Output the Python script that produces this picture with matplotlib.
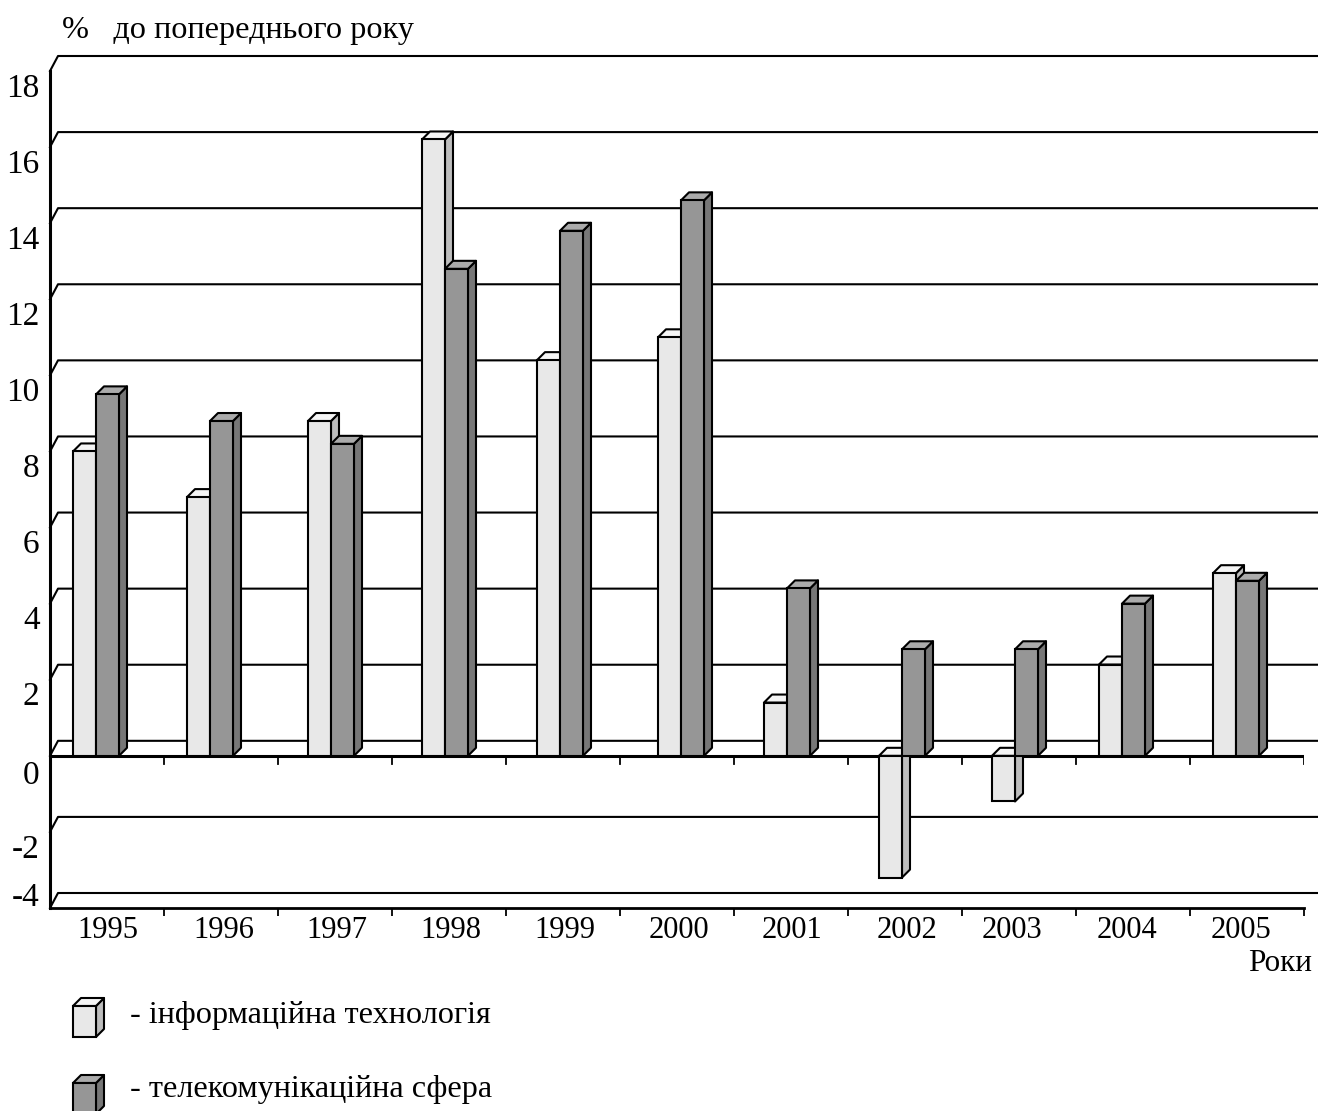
import matplotlib
matplotlib.use('Agg')
import matplotlib.pyplot as plt
from matplotlib.patches import Polygon, Rectangle
from matplotlib.transforms import ScaledTranslation

years = ['1995', '1996', '1997', '1998', '1999', '2000', '2001', '2002', '2003', '2004', '2005']
it_values = [8.0, 6.8, 8.8, 16.2, 10.4, 11.0, 1.4, -3.2, -1.2, 2.4, 4.8]
telecom_values = [9.5, 8.8, 8.2, 12.8, 13.8, 14.6, 4.4, 2.8, 2.8, 4.0, 4.6]
y_ticks = [-4, -2, 0, 2, 4, 6, 8, 10, 12, 14, 16, 18]

# the bars are not evenly placed in the original, px from the left tick
bar_shift = [23, 23, 30, 30, 31, 38, 30, 31, 30, 23, 23]
label_shift = [58, 60, 59, 59, 59, 59, 58, 59, 50, 51, 51]

W, H = 1318, 1111
LEFT, RIGHT, TOP, BOTTOM = 50, 1304, 71, 908
PX_X = (RIGHT - LEFT) / 11
PX_Y = (BOTTOM - TOP) / 22
BAR_W = 23 / PX_X
DX, DY = 8 / PX_X, 8 / PX_Y
WALL_X, WALL_Y = 8 / PX_X, 15 / PX_Y
LINE = 1.5
SERIF = 'Liberation Serif'

LIGHT = ('#e8e8e8', '#f5f5f5', '#bdbdbd')
DARK = ('#969696', '#ababab', '#777777')

fig = plt.figure(figsize=(W / 100, H / 100), dpi=100)
ax = fig.add_axes([LEFT / W, 1 - BOTTOM / H, (RIGHT - LEFT) / W, (BOTTOM - TOP) / H])
ax.set_xlim(0, 11)
ax.set_ylim(-4, 18)
ax.patch.set_visible(False)
for side in ['top', 'right']:
    ax.spines[side].set_visible(False)
ax.spines['left'].set_linewidth(2.2)
ax.spines['bottom'].set_linewidth(2)


def cube(x, v, colors, base=0, z=3):
    front, top, side = colors
    hi = max(v, base)
    ax.add_patch(Polygon([(x + BAR_W, base), (x + BAR_W + DX, base + DY), (x + BAR_W + DX, v + DY), (x + BAR_W, v)],
                         fc=side, ec='black', lw=LINE, zorder=z, clip_on=False, joinstyle='round'))
    ax.add_patch(Polygon([(x, hi), (x + DX, hi + DY), (x + BAR_W + DX, hi + DY), (x + BAR_W, hi)],
                         fc=top, ec='black', lw=LINE, zorder=z, clip_on=False, joinstyle='round'))
    ax.add_patch(Rectangle((x, base), BAR_W, v - base,
                           fc=front, ec='black', lw=LINE, zorder=z, clip_on=False))


# back wall grid with the little slanted bit at the axis
for t in y_ticks:
    ax.plot([0, WALL_X, (W - LEFT) / PX_X], [t, t + WALL_Y, t + WALL_Y],
            color='black', lw=LINE, zorder=1, clip_on=False)

ax.axhline(0, color='black', lw=2.2, zorder=2)

for i in range(len(years)):
    x = i + bar_shift[i] / PX_X
    cube(x, it_values[i], LIGHT, z=3 + i * 0.01)
    cube(x + BAR_W, telecom_values[i], DARK, z=4 + i * 0.01)

# ticks under zero line and under the bottom axis
ax.set_xticks(range(1, 12))
ax.set_xticklabels([])
ax.tick_params(axis='x', which='major', length=6, width=1.3, direction='out')
for i in range(1, 12):
    ax.plot([i, i], [0, -8 / PX_Y], color='black', lw=1.3, zorder=2)

ax.set_xticks([i + label_shift[i] / PX_X for i in range(len(years))], minor=True)
ax.set_xticklabels(years, minor=True, family=SERIF, fontsize=22)
ax.tick_params(axis='x', which='minor', length=0, pad=5.5)

ax.set_yticks(y_ticks)
ax.set_yticklabels([str(t) for t in y_ticks], family=SERIF, fontsize=24)
ax.tick_params(axis='y', length=0, pad=7.5)
for t, lab in zip(y_ticks, ax.get_yticklabels()):
    shift = 14 if t != -4 else -14
    if t == 0:
        shift = 16
    lab.set_transform(lab.get_transform() + ScaledTranslation(0, -shift / 100, fig.dpi_scale_trans))

# legend cubes, in plot units
for (top_px, bot_px), colors in zip([(1006, 1037), (1083, 1114)], [LIGHT, DARK]):
    b = (BOTTOM - bot_px) / PX_Y - 4
    t = (BOTTOM - top_px) / PX_Y - 4
    cube(23 / PX_X, t, colors, base=b)

fig.text(62 / W, 1 - 38 / H, '%   до попереднього року', family=SERIF, fontsize=23.2, va='baseline')
fig.text(1312 / W, 1 - 971 / H, 'Роки', family=SERIF, fontsize=22.4, ha='right', va='baseline')
fig.text(130 / W, 1 - 1023 / H, '- інформаційна технологія', family=SERIF, fontsize=23.2, va='baseline')
fig.text(130 / W, 1 - 1097 / H, '- телекомунікаційна сфера', family=SERIF, fontsize=23.2, va='baseline')

fig.savefig('out.png', dpi=100)
